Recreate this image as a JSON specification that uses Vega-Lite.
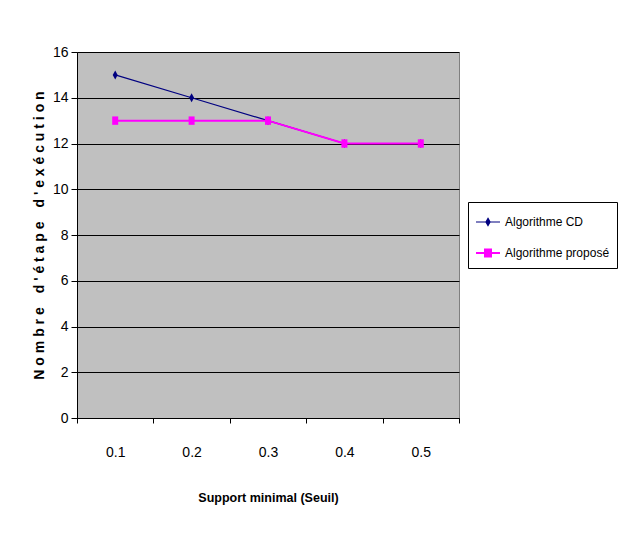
{
  "$schema": "https://vega.github.io/schema/vega-lite/v6.json",
  "autosize": "none",
  "width": 382,
  "height": 366,
  "padding": {"left": 77, "top": 52, "right": 159, "bottom": 115},
  "background": "white",
  "config": {
    "view": {"fill": "#C0C0C0", "stroke": "#808080", "strokeWidth": 1},
    "font": "Liberation Sans"
  },
  "data": {
    "values": [
      {"support": "0.1", "algo": "Algorithme CD", "etapes": 15},
      {"support": "0.2", "algo": "Algorithme CD", "etapes": 14},
      {"support": "0.3", "algo": "Algorithme CD", "etapes": 13},
      {"support": "0.4", "algo": "Algorithme CD", "etapes": 12},
      {"support": "0.5", "algo": "Algorithme CD", "etapes": 12},
      {"support": "0.1", "algo": "Algorithme proposé", "etapes": 13},
      {"support": "0.2", "algo": "Algorithme proposé", "etapes": 13},
      {"support": "0.3", "algo": "Algorithme proposé", "etapes": 13},
      {"support": "0.4", "algo": "Algorithme proposé", "etapes": 12},
      {"support": "0.5", "algo": "Algorithme proposé", "etapes": 12}
    ]
  },
  "encoding": {
    "x": {
      "field": "support", "type": "ordinal", "bandPosition": 0.5,
      "scale": {"type": "band", "paddingInner": 0, "paddingOuter": 0},
      "axis": {
        "title": "Support minimal (Seuil)", "labelAngle": 0,
        "tickBand": "extent", "domainColor": "black", "tickColor": "black",
        "tickSize": 5, "labelPadding": 22, "labelFontSize": 14, "labelColor": "black",
        "titleFontSize": 12.5, "titleFontWeight": "bold", "titlePadding": 32, "titleColor": "black",
        "grid": false
      }
    },
    "y": {
      "field": "etapes", "type": "quantitative",
      "scale": {"domain": [0, 16], "nice": false},
      "axis": {
        "title": "N o m b r e\u2003d ' é t a p e\u2003d ' e x é c u t i o n",
        "values": [0, 2, 4, 6, 8, 10, 12, 14, 16],
        "grid": true, "gridColor": "black", "gridOpacity": 1, "gridWidth": 1,
        "domainColor": "black", "tickColor": "black", "tickSize": 6,
        "labelPadding": 3, "labelFontSize": 14, "labelColor": "black",
        "titleFontSize": 14, "titleFontWeight": "bold", "titlePadding": 6, "titleColor": "black"
      }
    },
    "color": {
      "field": "algo", "type": "nominal",
      "scale": {"domain": ["Algorithme CD", "Algorithme proposé"], "range": ["#000080", "#FF00FF"]}
    }
  },
  "layer": [
    {
      "mark": {"type": "line"},
      "encoding": {
        "strokeWidth": {"field": "algo", "type": "nominal", "scale": {"domain": ["Algorithme CD", "Algorithme proposé"], "range": [1.2, 2]}, "legend": null},
        "color": {
          "field": "algo", "type": "nominal",
          "scale": {"domain": ["Algorithme CD", "Algorithme proposé"], "range": ["#000080", "#FF00FF"]},
          "legend": {
            "title": null, "orient": "none", "legendX": 391, "legendY": 150,
            "strokeColor": "black", "fillColor": "white", "padding": 7,
            "labelFontSize": 12, "labelColor": "black", "labelOffset": 4,
            "symbolSize": 576, "rowPadding": 12,
            "encode": {
              "symbols": {
                "update": {
                  "shape": {"signal": "datum.value === 'Algorithme CD' ? 'M-1,0H1M0,-0.3L0.17,0L0,0.3L-0.17,0Z' : 'M-1,0H1M-0.25,-0.3H0.25V0.3H-0.25Z'"},
                  "fill": {"signal": "datum.value === 'Algorithme CD' ? '#000080' : '#FF00FF'"},
                  "stroke": {"signal": "datum.value === 'Algorithme CD' ? '#000080' : '#FF00FF'"},
                  "strokeWidth": {"value": 1.2},
                  "opacity": {"value": 1}
                }
              }
            }
          }
        }
      }
    },
    {
      "transform": [{"filter": "datum.algo === 'Algorithme CD'"}],
      "mark": {"type": "point", "filled": true, "opacity": 1, "shape": "M0,-2.25L1.25,0L0,2.25L-1.25,0Z", "size": 16}
    },
    {
      "transform": [{"filter": "datum.algo === 'Algorithme proposé'"}],
      "mark": {"type": "point", "filled": true, "opacity": 1, "shape": "M-1.5,-2.1H1.5V2.1H-1.5Z", "size": 16}
    }
  ]
}
